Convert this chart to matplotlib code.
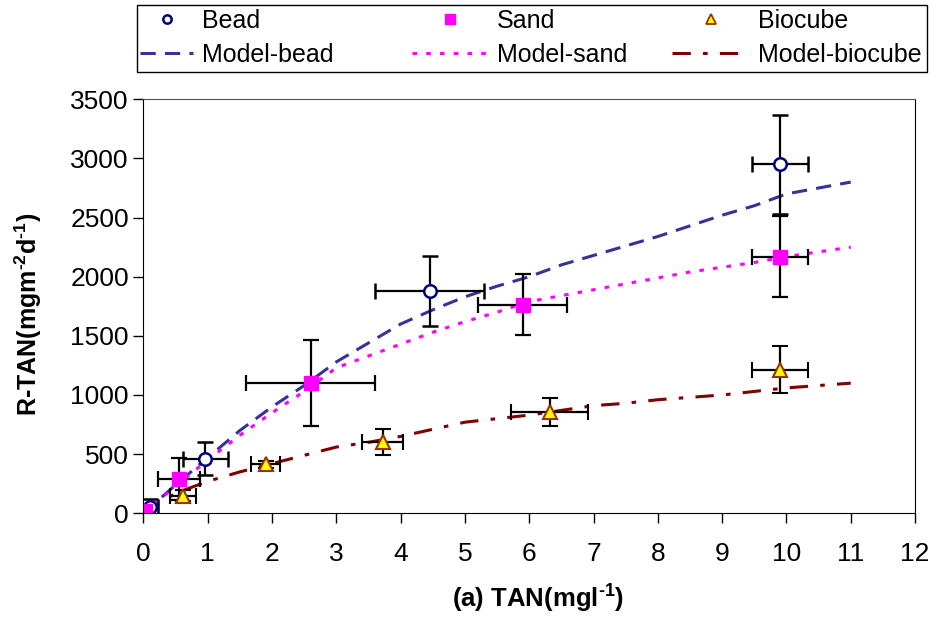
import matplotlib.pyplot as plt
from matplotlib.lines import Line2D
from matplotlib.patches import Rectangle

plt.rcParams['font.family'] = ['Liberation Sans', 'DejaVu Sans']
plt.rcParams['axes.unicode_minus'] = False
plt.rcParams['mathtext.fontset'] = 'custom'
plt.rcParams['mathtext.rm'] = 'Liberation Sans:bold'
plt.rcParams['mathtext.bf'] = 'Liberation Sans:bold'

# Données mesurées (TAN, R-TAN) avec barres d'erreur
bead_x = [0.10, 0.96, 4.45, 9.90]
bead_y = [50, 460, 1880, 2950]
bead_xerr = [0.13, 0.35, 0.85, 0.44]
bead_yerr = [70, 140, 295, 420]

sand_x = [0.03, 0.55, 2.60, 5.90, 9.90]
sand_y = [20, 290, 1100, 1765, 2170]
sand_xerr = [0.05, 0.33, 1.00, 0.69, 0.44]
sand_yerr = [30, 180, 365, 257, 345]

bio_x = [0.62, 1.90, 3.72, 6.32, 9.90]
bio_y = [150, 415, 600, 855, 1215]
bio_xerr = [0.20, 0.22, 0.32, 0.60, 0.44]
bio_yerr = [45, 30, 110, 120, 195]

# Courbes du modèle
model_x = [0, 0.5, 1, 1.5, 2, 2.5, 3, 3.5, 4, 4.5, 5, 5.5, 6, 6.5, 7, 7.5, 8, 8.5, 9, 9.5, 10, 10.5, 11]
model_bead = [0, 240, 470, 700, 900, 1080, 1280, 1440, 1600, 1720, 1830, 1920, 2000, 2100, 2180, 2260, 2340, 2430, 2520, 2600, 2700, 2750, 2800]
model_sand = [0, 230, 450, 660, 850, 1030, 1230, 1330, 1430, 1530, 1620, 1700, 1790, 1840, 1890, 1940, 1990, 2040, 2080, 2120, 2170, 2210, 2250]
model_bio = [0, 170, 270, 350, 420, 490, 560, 600, 650, 710, 770, 800, 830, 870, 910, 930, 960, 980, 1000, 1030, 1060, 1080, 1100]

W, H = 934, 619
fig = plt.figure(figsize=(W / 100, H / 100), dpi=100)
ax = fig.add_axes([0.1536, 0.1708, 0.8261, 0.6688])

l1, = ax.plot(model_x, model_bead, color='#333399', ls=(0, (5, 3)), lw=2.2)
l2, = ax.plot(model_x, model_sand, color='#FF00FF', ls=(0, (1.5, 3)), lw=2.2)
l3, = ax.plot(model_x, model_bio, color='#800000', ls=(0, (6, 4, 1.5, 4)), lw=2.2)

eb = dict(ecolor='black', elinewidth=1.6, capsize=6, capthick=1.6, ls='none')
ax.errorbar(bead_x, bead_y, xerr=bead_xerr, yerr=bead_yerr, marker='o', ms=9,
            mfc='white', mec='#000080', mew=1.8, **eb)
ax.errorbar(sand_x, sand_y, xerr=sand_xerr, yerr=sand_yerr, marker='s', ms=10,
            mfc='#FF00FF', mec='#FF00FF', **eb)
ax.errorbar(bio_x, bio_y, xerr=bio_xerr, yerr=bio_yerr, marker='^', ms=10,
            mfc='#FFFF00', mec='#993300', mew=1.5, **eb)

ax.set_xlim(0, 12)
ax.set_ylim(0, 3500)
ax.set_xticks(range(0, 13))
ax.set_yticks(range(0, 3501, 500))
ax.tick_params(direction='out', length=7, width=1, labelsize=19)
ax.tick_params(axis='x', pad=14)
ax.spines['top'].set_color('#505050')

# Titres des axes
fig.text(538 / W, 1 - 598 / H, '(a) TAN(mgl$^{\\text{-}1}$)', fontsize=18.5,
         fontweight='bold', ha='center', va='center')
fig.text(28 / W, 1 - 314 / H, 'R-TAN(mgm$^{\\text{-}2}$d$^{\\text{-}1}$)', fontsize=18,
         fontweight='bold', ha='center', va='center', rotation=90)

# Légende : trois colonnes dans un cadre
h_bead = Line2D([], [], ls='none', marker='o', ms=6, mfc='white', mec='#000080', mew=1.8)
h_sand = Line2D([], [], ls='none', marker='s', ms=7, mfc='#FF00FF', mec='#FF00FF')
h_bio = Line2D([], [], ls='none', marker='^', ms=7, mfc='#FFFF00', mec='#993300', mew=1.3)

colonnes = [
    ([h_bead, l1], ['Bead', 'Model-bead'], 140, 2.12),
    ([h_sand, l2], ['Sand', 'Model-sand'], 412, 3.04),
    ([h_bio, l3], ['Biocube', 'Model-biocube'], 672, 3.1),
]
for handles, labels, x0, hl in colonnes:
    fig.legend(handles, labels, loc='upper left', bbox_to_anchor=(x0 / W, 1 - 9 / H),
               frameon=False, fontsize=18, handlelength=hl, handletextpad=0.36,
               borderpad=0, borderaxespad=0, labelspacing=0.38)

fig.patches.append(Rectangle((137 / W, 1 - 72 / H), (927 - 137) / W, (72 - 5) / H,
                             transform=fig.transFigure, fill=False, edgecolor='black', lw=1.0))

fig.savefig('out.png', dpi=100)
